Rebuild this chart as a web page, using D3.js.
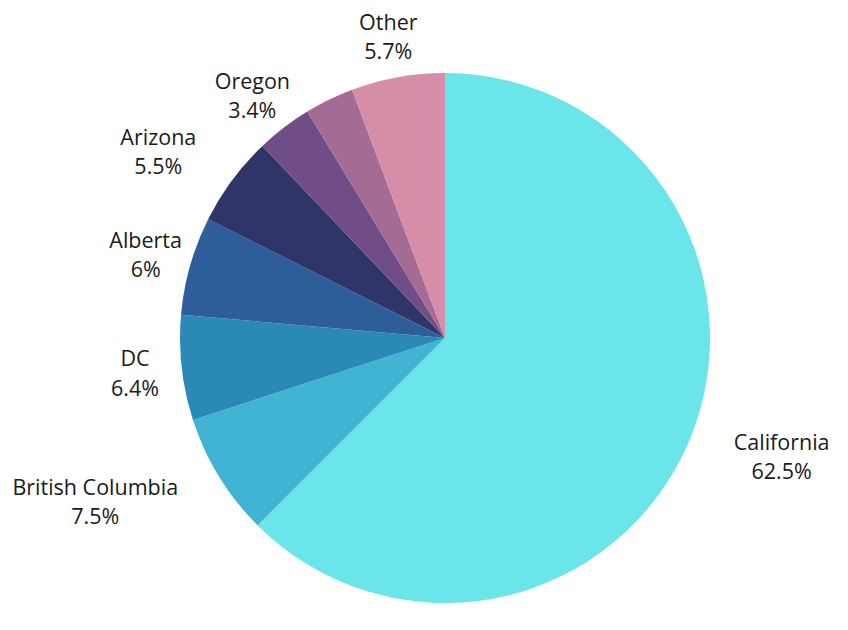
<!DOCTYPE html>
<html>
<head>
<meta charset="utf-8">
<script src="https://cdn.jsdelivr.net/npm/d3@7"></script>
<style>
  html, body { margin: 0; padding: 0; background: #fff; }
  svg { display: block; }
</style>
</head>
<body>
<div id="chart"></div>
<script>
// slices, clockwise from 12 o'clock
const regions = ['California', 'British Columbia', 'DC', 'Alberta', 'Arizona', 'Oregon', '', 'Other'];
const shares = [62.5, 7.5, 6.4, 6, 5.5, 3.4, 3.0, 5.7];
const shareLabels = ['62.5%', '7.5%', '6.4%', '6%', '5.5%', '3.4%', '', '5.7%'];
const sliceColors = ['#6ae5e9', '#41b3d3', '#2b89b8', '#2e5e99', '#2f3469', '#714d87', '#a46b95', '#d68ea8'];

const width = 848;
const height = 630;
const center = { x: 445, y: 338 };
const radius = 265;
const labelRadius = 307;
// hand nudges so the labels sit where the original put them
const labelNudge = [[53, 0], [-88, 2], [-5, -1], [-4, -1], [-40, -5], [-6, 0], [0, 0], [-2, -1]];

const data = regions.map((name, i) => ({ name, value: shares[i], pct: shareLabels[i], color: sliceColors[i], i }));

const svg = d3.select('#chart')
  .append('svg')
  .attr('width', width)
  .attr('height', height);

const g = svg.append('g')
  .attr('transform', `translate(${center.x},${center.y})`);

const pie = d3.pie()
  .value(d => d.value)
  .sort(null);

const arc = d3.arc()
  .innerRadius(0)
  .outerRadius(radius);

const labelArc = d3.arc()
  .innerRadius(labelRadius)
  .outerRadius(labelRadius);

const arcs = pie(data);

g.selectAll('.slice')
  .data(arcs)
  .enter()
  .append('path')
  .attr('class', 'slice')
  .attr('fill', d => d.data.color)
  .attr('d', arc);

const labels = g.selectAll('.label')
  .data(arcs.filter(d => d.data.name !== ''))
  .enter()
  .append('text')
  .attr('class', 'label')
  .attr('text-anchor', 'middle')
  .attr('font-family', '"Open Sans", "Noto Sans", sans-serif')
  .attr('font-size', '21.5px')
  .attr('fill', '#1a1a1a')
  .attr('transform', d => {
    const [x, y] = labelArc.centroid(d);
    const [nx, ny] = labelNudge[d.data.i];
    return `translate(${x + nx},${y + ny})`;
  });

labels.append('tspan')
  .attr('x', 0)
  .attr('dy', '-0.24em')
  .text(d => d.data.name);

labels.append('tspan')
  .attr('x', 0)
  .attr('dy', '1.35em')
  .text(d => d.data.pct);
</script>
</body>
</html>
